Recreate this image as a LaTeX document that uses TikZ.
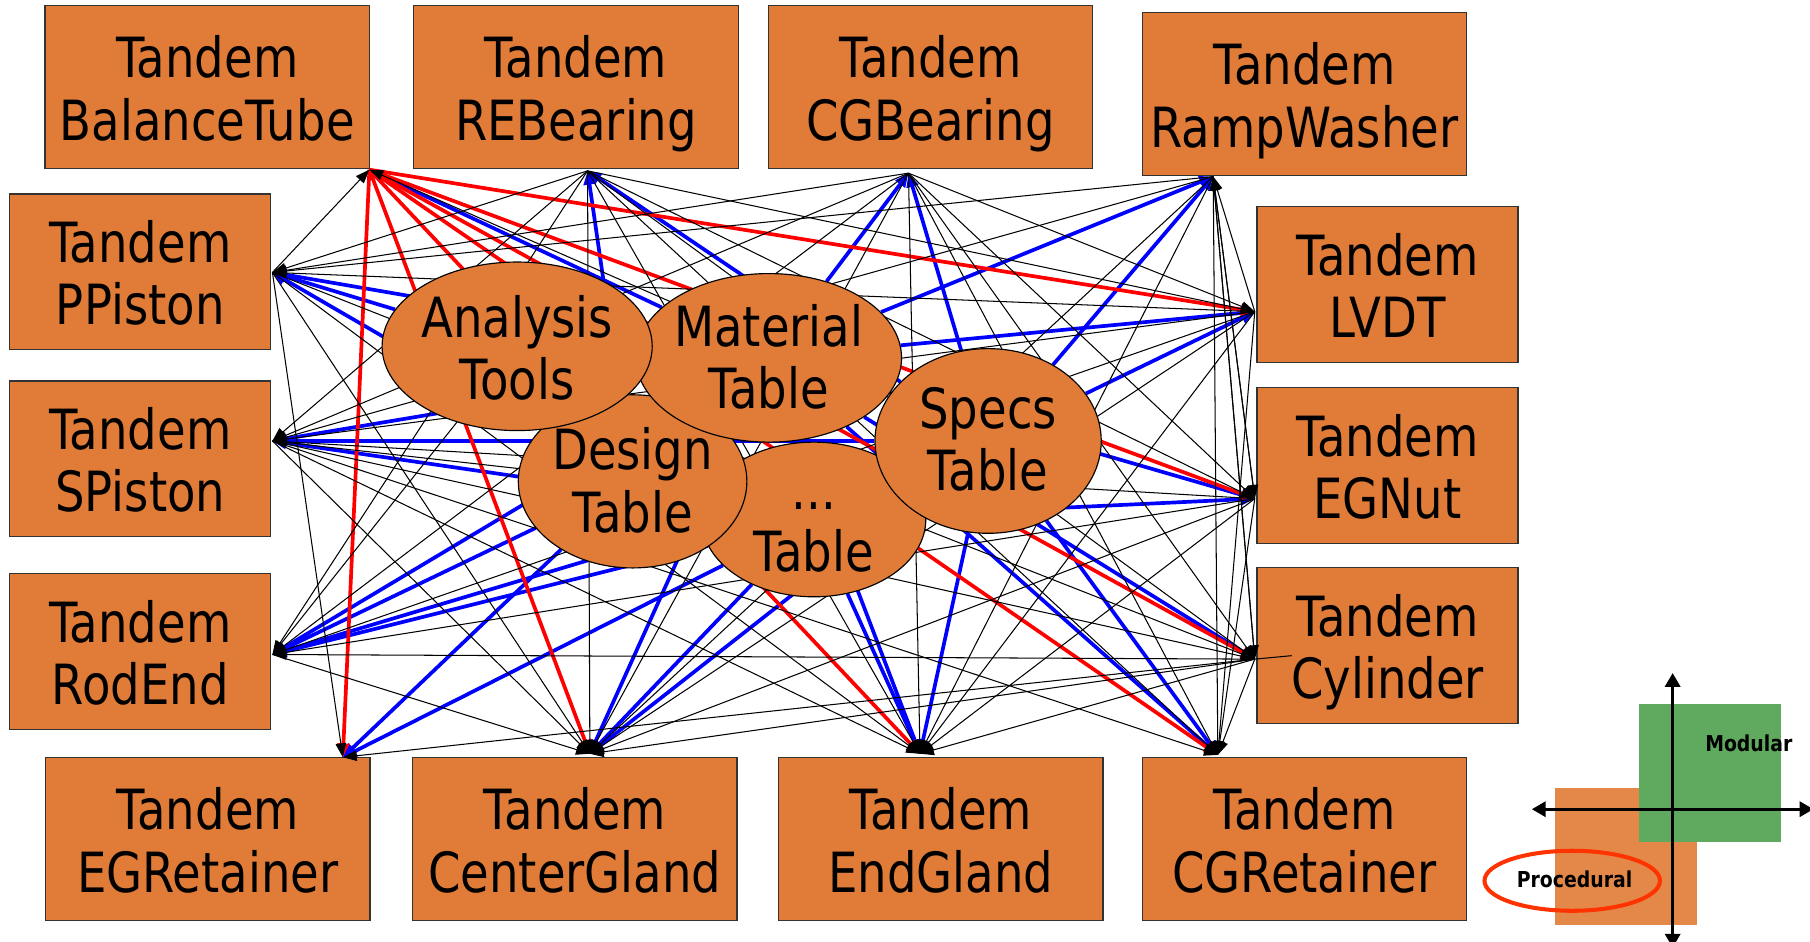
\documentclass[tikz,border=0pt]{standalone}
\usepackage{fontspec}
\newfontfamily\boxfont[FakeStretch=0.84]{DejaVu Sans}
\newfontfamily\legfont[FakeStretch=0.86]{DejaVu Sans}
\usetikzlibrary{arrows.meta,shapes.geometric}
\pgfdeclarelayer{edges}
\pgfdeclarelayer{front}
\pgfsetlayers{main,edges,front}
\definecolor{boxorange}{RGB}{224,124,56}
\definecolor{legorange}{RGB}{228,136,74}
\definecolor{leggreen}{RGB}{96,170,95}
\definecolor{ringred}{RGB}{255,51,0}
\newcommand\topstrut{\rule{0pt}{50pt}}
\newcommand\botstrut{\rule[-12pt]{0pt}{12pt}}
\begin{document}
\begin{tikzpicture}[x=1pt,y=-1pt,
  compbox/.style={rectangle, draw=black!80, line width=1.1pt, fill=boxorange, inner sep=0pt, align=center, font=\boxfont\fontsize{48}{54}\selectfont},
  tb/.style={compbox, minimum width=281pt, minimum height=141pt},
  sb/.style={compbox, minimum width=226pt, minimum height=135pt},
  ell/.style={ellipse, draw=black, line width=1pt, fill=boxorange, inner sep=0pt},
  etext/.style={inner sep=0pt, align=center, font=\boxfont\fontsize{48}{54}\selectfont},
  bk/.style={draw=black, line width=0.9pt, -{Triangle[length=12pt,width=9pt]}},
  bl/.style={draw=blue, line width=3.2pt, -{Triangle[length=12pt,width=10pt]}},
  rd/.style={draw=red, line width=3.2pt, -{Triangle[length=12pt,width=10pt]}},
  legtext/.style={inner sep=0pt, font=\legfont\bfseries\fontsize{19}{22}\selectfont},
  legaxis/.style={line width=2.8pt, {Triangle[length=12pt,width=13pt]}-{Triangle[length=12pt,width=13pt]}}
]
\useasboundingbox (0,0) rectangle (1568,816);

% component boxes
\node[tb] (BT) at (179.5,75.5) {\topstrut Tandem\\BalanceTube\botstrut};
\node[tb] (RB) at (499,75.5) {\topstrut Tandem\\REBearing\botstrut};
\node[tb] (CB) at (806,75.5) {\topstrut Tandem\\CGBearing\botstrut};
\node[tb] (RW) at (1130,81.5) {\topstrut Tandem\\RampWasher\botstrut};
\node[sb] (PP) at (121.5,235.5) {\topstrut Tandem\\PPiston\botstrut};
\node[sb] (SP) at (121.5,397.5) {\topstrut Tandem\\SPiston\botstrut};
\node[sb] (RE) at (121.5,564.5) {\topstrut Tandem\\RodEnd\botstrut};
\node[tb] (ER) at (180,727) {\topstrut Tandem\\EGRetainer\botstrut};
\node[tb] (CG) at (498,727) {\topstrut Tandem\\CenterGland\botstrut};
\node[tb] (EG) at (815,727) {\topstrut Tandem\\EndGland\botstrut};
\node[tb] (CR) at (1130,727) {\topstrut Tandem\\CGRetainer\botstrut};
\node[sb] (LV) at (1202,246.5) {\topstrut Tandem\\LVDT\botstrut};
\node[sb] (EN) at (1202,403.5) {\topstrut Tandem\\EGNut\botstrut};
\node[sb] (CY) at (1202,559) {\topstrut Tandem\\Cylinder\botstrut};

% hubs where connectors meet the boxes
\coordinate (hBT) at (320,147);
\coordinate (hRB) at (509,148);
\coordinate (hCB) at (787,150);
\coordinate (hRW) at (1051,153);
\coordinate (hPP) at (236,236);
\coordinate (hSP) at (236,382);
\coordinate (hRE) at (236,567);
\coordinate (hER) at (297,656);
\coordinate (hCG) at (511,653);
\coordinate (hEG) at (797,653);
\coordinate (hCR) at (1055,654);
\coordinate (hLV) at (1087,270);
\coordinate (hEN) at (1087,432);
\coordinate (hCY) at (1087,571);
\coordinate (cyIn) at (1119,568);

% tables (ellipses)
\begin{pgfonlayer}{front}
\node[ell, minimum width=194pt, minimum height=134pt] (DO) at (705,450) {};
\node[etext] (DOt) at (705,449.5) {\topstrut ...\\Table\botstrut};
\node[ell, minimum width=198pt, minimum height=150pt] (DT) at (548,417) {};
\node[etext] (DTt) at (548,415) {\topstrut Design\\Table\botstrut};
\node[ell, minimum width=230pt, minimum height=146pt] (MT) at (666,310) {};
\node[etext] (MTt) at (666,308) {\topstrut Material\\Table\botstrut};
\node[ell, minimum width=234pt, minimum height=146pt] (AT) at (448,300) {};
\node[etext] (ATt) at (448,300) {\topstrut Analysis\\Tools\botstrut};
\node[ell, minimum width=196pt, minimum height=160pt] (ST) at (856,382) {};
\node[etext] (STt) at (856,379) {\topstrut Specs\\Table\botstrut};
\end{pgfonlayer}

% connectors
\begin{pgfonlayer}{edges}
\foreach \s/\t in {MT/hPP, AT/hPP, DT/hPP,
  MT/hSP, ST/hSP, DO/hSP,
  MT/hRE, DT/hRE, ST/hRE, DO/hRE,
  DT/hER, DO/hER,
  MT/hCG, DO/hCG, ST/hCG,
  MT/hEG, DO/hEG, ST/hEG,
  ST/hCR, MT/hCR, MT/hCY,
  MT/hEN, DO/hEN,
  MT/hLV, ST/hLV,
  MT/hRW, ST/hRW,
  MT/hCB, ST/hCB,
  DT/hRB, ST/hRB, MT/hBT}
  \draw[bl] (\s) -- (\t);
\foreach \t in {hER, hCG, hEG, hCR, hCY, hEN, hLV}
  \draw[rd] (hBT) -- (\t);
\foreach \s/\t in {hPP/hBT, hRB/hPP, hCB/hPP, hRW/hPP, hLV/hPP,
  hPP/hER, hPP/hCG, hPP/hEG, hPP/hCY,
  hRB/hSP, hCB/hSP, hRW/hSP, hLV/hSP, hEN/hSP,
  hSP/hCG, hSP/hEG, hSP/hCR, hSP/hCY,
  hRB/hRE, hCB/hRE, hLV/hRE, hEN/hRE, hCY/hRE,
  hRE/hCG, hCY/hER,
  hRB/hCG, hCB/hCG, hRW/hCG, hLV/hCG, hEN/hCG, hCY/hCG,
  hRB/hEG, hCB/hEG, hRW/hEG, hLV/hEG, hEN/hEG, hCY/hEG,
  hRB/hCR, hCB/hCR, hRW/hCR, hLV/hCR, hEN/hCR, hCY/hCR,
  hLV/hRW, hEN/hRW, hCY/hRW,
  hRB/hLV, hCB/hLV,
  hRB/hEN, hCB/hEN, hRW/hEN,
  hRB/hCY, hCB/hCY, hRW/hCY,
  ST/hBT, DT/hSP, AT/hRE}
  \draw[bk] (\s) -- (\t);
\draw[black, line width=0.9pt] (hCY) -- (cyIn);
\end{pgfonlayer}

% legend
\fill[legorange] (1347,683) rectangle (1470,801);
\fill[leggreen] (1420,610) rectangle (1543,729);
\coordinate (axT) at (1449,583);
\coordinate (axB) at (1449,821);
\coordinate (axL) at (1327,701);
\coordinate (axR) at (1571,701);
\draw[legaxis] (axT) -- (axB);
\draw[legaxis] (axL) -- (axR);
\draw[ringred, line width=3.5pt] (1362,763) ellipse [x radius=76pt, y radius=26pt];
\node[legtext] (modular) at (1515,644) {Modular};
\node[legtext] (procedural) at (1364,762) {Procedural};
\end{tikzpicture}
\end{document}
